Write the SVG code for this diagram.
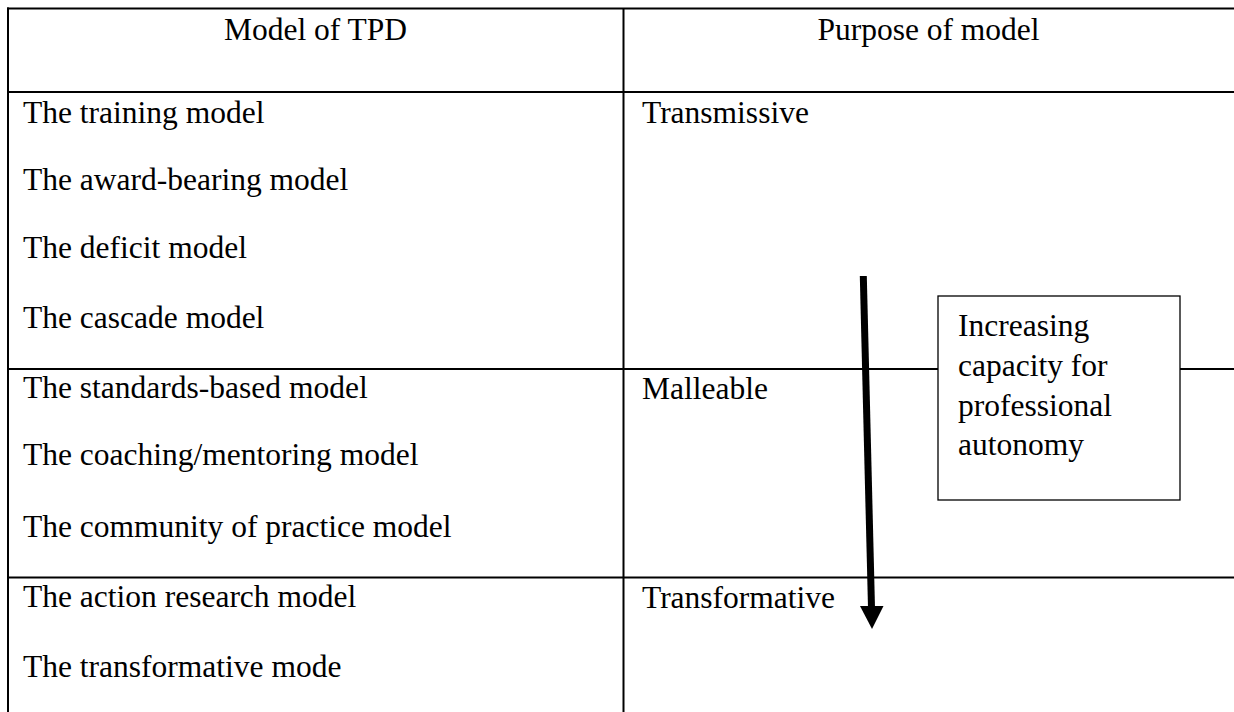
<svg xmlns="http://www.w3.org/2000/svg" width="1234" height="712" viewBox="0 0 1234 712">
<style>
.t{font-family:"Liberation Serif","Times New Roman",serif;font-size:31.5px;fill:#000}
.rule{stroke:#000;stroke-width:2;fill:none}
</style>
<rect width="1234" height="712" fill="#fff"/>
<g id="table">
<line class="rule" x1="7" y1="8.5" x2="1234" y2="8.5"/>
<line class="rule" x1="8" y1="7.5" x2="8" y2="712"/>
<line class="rule" x1="623.5" y1="8" x2="623.5" y2="712"/>
<line class="rule" x1="8" y1="92" x2="1234" y2="92"/>
<line class="rule" x1="8" y1="369" x2="1234" y2="369"/>
<line class="rule" x1="8" y1="577.5" x2="1234" y2="577.5"/>
</g>
<g id="header">
<text class="t" x="315.5" y="40" text-anchor="middle">Model of TPD</text>
<text class="t" x="928.5" y="40" text-anchor="middle">Purpose of model</text>
</g>
<g id="row-transmissive">
<text class="t" x="23" y="123">The training model</text>
<text class="t" x="23" y="190">The award-bearing model</text>
<text class="t" x="23" y="258">The deficit model</text>
<text class="t" x="23" y="328">The cascade model</text>
<text class="t" x="642" y="123">Transmissive</text>
</g>
<g id="row-malleable">
<text class="t" x="23" y="398">The standards-based model</text>
<text class="t" x="23" y="465">The coaching/mentoring model</text>
<text class="t" x="23" y="537">The community of practice model</text>
<text class="t" x="642" y="399">Malleable</text>
</g>
<g id="row-transformative">
<text class="t" x="23" y="607">The action research model</text>
<text class="t" x="23" y="677">The transformative mode</text>
<text class="t" x="642" y="608">Transformative</text>
</g>
<g id="connectors">
<line x1="863.3" y1="276" x2="871.5" y2="608" stroke="#000" stroke-width="7"/>
<polygon points="860,606 883.5,606 872,629" fill="#000"/>
</g>
<g id="box">
<rect x="938" y="296" width="242" height="204" fill="#fff" stroke="#000" stroke-width="1.3"/>
<text class="t" x="958" y="336">Increasing</text>
<text class="t" x="958" y="376">capacity for</text>
<text class="t" x="958" y="416">professional</text>
<text class="t" x="958" y="455">autonomy</text>
</g>
</svg>
